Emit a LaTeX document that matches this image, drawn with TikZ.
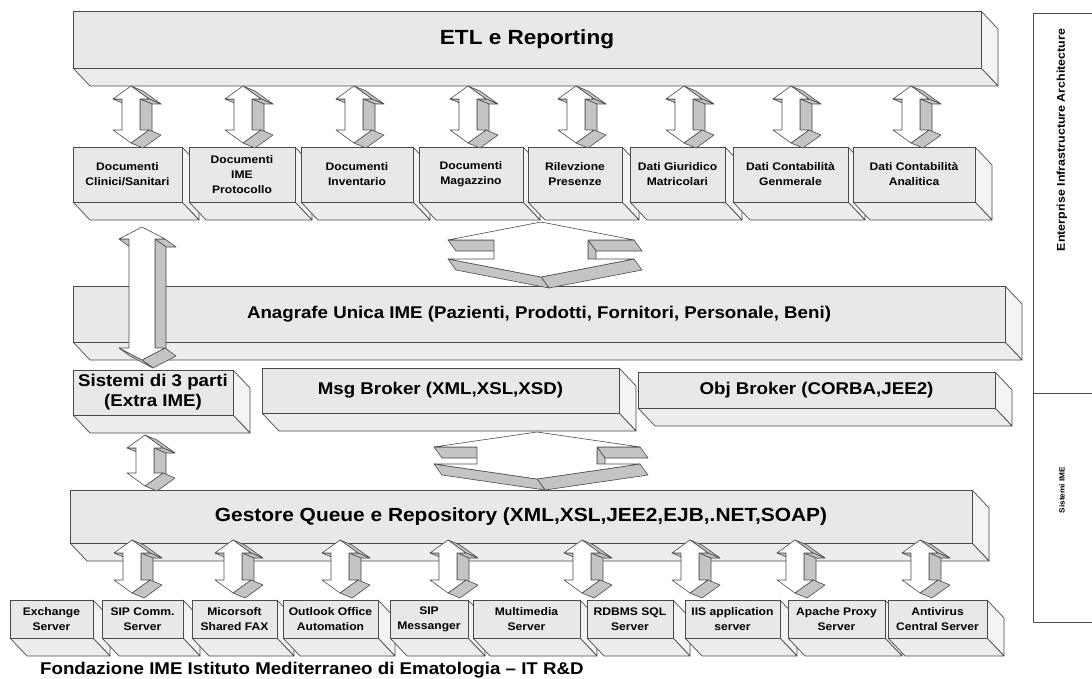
\documentclass[tikz,border=0pt]{standalone}
\usepackage{fontspec}
\setmainfont{Liberation Sans}[FakeStretch=1.1]
\definecolor{ln}{HTML}{4A4A4A}
\definecolor{frontc}{HTML}{E8E8E8}
\definecolor{botc}{HTML}{EDEDED}
\definecolor{sidec}{HTML}{F4F4F4}
\definecolor{arrg}{HTML}{C4C4C4}
\tikzset{
  face/.style={draw=ln, line width=0.7pt, line join=round},
  frontbox/.style={face, fill=frontc, inner sep=0pt, outer sep=0pt, align=center},
  arrside/.style={draw=ln, line width=0.6pt, line join=round, fill=arrg},
  arrfront/.style={draw=ln, line width=0.6pt, line join=round, fill=white},
  bigf/.style={font=\fontsize{20.5}{24}\selectfont\bfseries},
  midf/.style={font=\fontsize{17}{20}\selectfont\bfseries},
  smallf/.style={font=\fontsize{11}{15}\selectfont\bfseries},
}
\def\bdx{17}\def\bdy{18}
% 3D box: name, x0, y0, x1, y1, style, text
\newcommand{\tbox}[7]{%
  \filldraw[face, fill=sidec] (#4,#3) -- ({#4+\bdx},{#3+\bdy}) -- ({#4+\bdx},{#5+\bdy}) -- (#4,#5) -- cycle;
  \filldraw[face, fill=botc] (#2,#5) -- (#4,#5) -- ({#4+\bdx},{#5+\bdy}) -- ({#2+\bdx},{#5+\bdy}) -- cycle;
  \node[frontbox, #6, minimum width={(#4-#2)*1pt}, minimum height={(#5-#3)*1pt}, anchor=north west] (#1) at (#2,#3) {#7};
}
\newcommand{\sidequad}[4]{%
  \pgfmathsetmacro{\dotv}{((#4)-(#2))*\aex-((#3)-(#1))*\aey}%
  \ifdim\dotv pt>0.01pt
    \filldraw[arrside] (#1,#2) -- (#3,#4) -- ({#3+\aex},{#4+\aey}) -- ({#1+\aex},{#2+\aey}) -- cycle;
  \fi}
% 3D double arrow: cx, ytop, ybottom, shaft half width, head half width, head length, ex, ey
\newcommand{\darrow}[8]{%
  \def\aex{#7}\def\aey{#8}%
  \pgfmathsetmacro{\pRx}{#1+#5}%
  \pgfmathsetmacro{\pSx}{#1+#4}%
  \pgfmathsetmacro{\pSl}{#1-#4}%
  \pgfmathsetmacro{\pRl}{#1-#5}%
  \pgfmathsetmacro{\yU}{#2+#6}%
  \pgfmathsetmacro{\yL}{#3-#6}%
  \sidequad{#1}{#2}{\pRx}{\yU}%
  \sidequad{\pRx}{\yU}{\pSx}{\yU}%
  \sidequad{\pSx}{\yU}{\pSx}{\yL}%
  \sidequad{\pSx}{\yL}{\pRx}{\yL}%
  \sidequad{\pRx}{\yL}{#1}{#3}%
  \sidequad{#1}{#3}{\pRl}{\yL}%
  \sidequad{\pRl}{\yL}{\pSl}{\yL}%
  \sidequad{\pSl}{\yL}{\pSl}{\yU}%
  \sidequad{\pSl}{\yU}{\pRl}{\yU}%
  \sidequad{\pRl}{\yU}{#1}{#2}%
  \filldraw[arrfront] (#1,#2) -- (\pRx,\yU) -- (\pSx,\yU) -- (\pSx,\yL) -- (\pRx,\yL) -- (#1,#3) -- (\pRl,\yL) -- (\pSl,\yL) -- (\pSl,\yU) -- (\pRl,\yU) -- cycle;
}
\begin{document}
\begin{tikzpicture}[x=1pt,y=-1pt]
\useasboundingbox (0,0) rectangle (1092,679);
\fill[white] (0,0) rectangle (1092,679);

% top bar
\tbox{etl}{73}{11}{981}{68}{bigf}{ETL e Reporting}

% documents row
\tbox{d1}{73}{147}{182}{202}{smallf}{Documenti\\Clinici/Sanitari}
\tbox{d2}{189}{147}{295}{202}{smallf}{Documenti\\IME\\Protocollo}
\tbox{d3}{301}{147}{413}{202}{smallf}{Documenti\\Inventario}
\tbox{d4}{419}{147}{523}{202}{smallf}{Documenti\\Magazzino}
\tbox{d5}{528}{147}{622}{202}{smallf}{Rilevzione\\Presenze}
\tbox{d6}{630}{147}{725}{202}{smallf}{Dati Giuridico\\Matricolari}
\tbox{d7}{733}{147}{848}{202}{smallf}{Dati Contabilità\\Genmerale}
\tbox{d8}{853}{147}{975}{202}{smallf}{Dati Contabilità\\Analitica}

% anagrafe
\tbox{ana}{73}{286}{1005}{342}{midf}{Anagrafe Unica IME (Pazienti, Prodotti, Fornitori, Personale, Beni)}

% brokers row
\tbox{terze}{73}{370}{233}{415}{midf}{Sistemi di 3 parti\\(Extra IME)}
\tbox{msg}{262}{368}{619}{413}{midf}{Msg Broker (XML,XSL,XSD)}
\tbox{obj}{638}{372}{995}{408}{midf}{Obj Broker (CORBA,JEE2)}

% gestore
\tbox{gest}{70}{490}{972}{543}{font=\fontsize{19}{22}\selectfont\bfseries}{Gestore Queue e Repository (XML,XSL,JEE2,EJB,.NET,SOAP)}

% servers row
\tbox{s1}{10}{600}{93}{638}{smallf}{Exchange\\Server}
\tbox{s2}{102}{600}{183}{638}{smallf}{SIP Comm.\\Server}
\tbox{s3}{192}{600}{277}{638}{smallf}{Micorsoft\\Shared FAX}
\tbox{s4}{283}{600}{378}{638}{smallf}{Outlook Office\\Automation}
\tbox{s5}{390}{600}{468}{638}{smallf}{SIP\\Messanger}
\tbox{s6}{473}{600}{580}{638}{smallf}{Multimedia\\Server}
\tbox{s7}{587}{600}{673}{638}{smallf}{RDBMS SQL\\Server}
\tbox{s8}{685}{600}{780}{638}{smallf}{IIS application\\server}
\tbox{s9}{788}{600}{885}{638}{smallf}{Apache Proxy\\Server}
\tbox{s10}{888}{600}{987}{638}{smallf}{Antivirus\\Central Server}

% side panel
\draw[face] (1100,13) -- (1033,13) -- (1033,622) -- (1100,622);
\draw[face] (1033,393) -- (1100,393);
\node[rotate=90, font=\fontsize{11.3}{13}\selectfont\bfseries] (eia) at (1062,140) {Enterprise Infrastructure Architecture};
\node[rotate=90, font=\fontsize{7.5}{9}\selectfont\bfseries] (sime) at (1062,490) {Sistemi IME};

% footer
\node[anchor=base west, inner sep=0pt, font=\fontsize{17}{20}\selectfont\bfseries] (foot) at (40,674) {Fondazione IME Istituto Mediterraneo di Ematologia – IT R\&D};

% arrows ETL -> documents
\foreach \c in {131,243,354,468,576,684,791,911}{\darrow{\c}{86}{143}{9}{18}{13}{12}{5}}
% arrows gestore -> servers
\foreach \c in {132,233,340,448,582,690,795,920}{\darrow{\c}{540}{593}{9}{18}{13}{12}{5}}
% terze parti -> gestore
\darrow{145}{435}{486}{9}{18}{13}{12}{5}
% long arrow documents -> terze parti
\darrow{142}{227}{360}{13}{23}{12}{11}{8}
% squat arrows
\darrow{541}{222}{277}{47}{93}{18}{8}{11}
\darrow{537}{432}{479}{60}{103}{15}{8}{11}
\end{tikzpicture}
\end{document}
